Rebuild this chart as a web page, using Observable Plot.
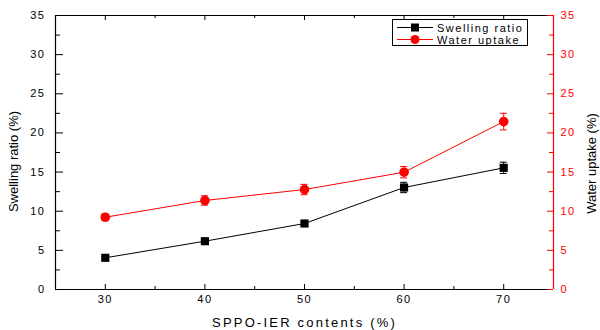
<!DOCTYPE html>
<html><head><meta charset="utf-8">
<script src="https://cdn.jsdelivr.net/npm/d3@7"></script>
<script src="https://cdn.jsdelivr.net/npm/@observablehq/plot@0.6"></script>
<style>
body{margin:0;background:#fff;font-family:Arial,"Liberation Sans",sans-serif}
#wrap{position:relative;width:600px;height:330px}
#legend{position:absolute;left:392px;top:19px;width:136px;height:27px;border:1px solid #000;background:#fff;font-size:11px;letter-spacing:1.5px;box-sizing:border-box}
#legend .row{position:absolute;left:4px;height:13px;display:flex;align-items:center}
#legend svg{margin-right:4px}
</style></head><body><div id="wrap"></div>
<script>
const contents = [30, 40, 50, 60, 70];
const swelling = [4.05, 6.17, 8.43, 13.03, 15.54];
const swellingErr = [0.2, 0.2, 0.2, 0.66, 0.72];
const uptake = [9.23, 11.37, 12.77, 14.98, 21.45];
const uptakeErr = [0.4, 0.6, 0.66, 0.72, 1.06];
const xTicks = [30, 40, 50, 60, 70];
const xMinor = [35, 45, 55, 65];
const yTicks = [0, 5, 10, 15, 20, 25, 30, 35];
const yMinor = [2.5, 7.5, 12.5, 17.5, 22.5, 27.5, 32.5];
const seriesNames = ["Swelling ratio", "Water uptake"];

const sw = contents.map((x, i) => ({x, y: swelling[i], e: swellingErr[i]}));
const wu = contents.map((x, i) => ({x, y: uptake[i], e: uptakeErr[i]}));

const W = 600, H = 330, mL = 55, mR = 47, mT = 15, mB = 41;
const pw = W - mL - mR, ph = H - mT - mB;
const cap = 0.35;

const errMarks = (data, color) => [
  Plot.ruleX(data, {x: "x", y1: d => d.y - d.e, y2: d => d.y + d.e, stroke: color, strokeWidth: 1}),
  Plot.ruleY(data, {y: d => d.y + d.e, x1: d => d.x - cap, x2: d => d.x + cap, stroke: color}),
  Plot.ruleY(data, {y: d => d.y - d.e, x1: d => d.x - cap, x2: d => d.x + cap, stroke: color})
];

const chart = Plot.plot({
  width: W, height: H,
  marginLeft: mL, marginRight: mR, marginTop: mT, marginBottom: mB,
  style: {fontFamily: "Arial, 'Liberation Sans', sans-serif", fontSize: "11px", letterSpacing: "1.5px", background: "#fff"},
  x: {domain: [25, 75]},
  y: {domain: [0, 35]},
  marks: [
    // frame
    Plot.ruleY([0], {stroke: "#000", strokeWidth: 1.2}),
    Plot.ruleY([35], {stroke: "#000", strokeWidth: 1}),
    Plot.ruleX([25], {stroke: "#000", strokeWidth: 1.2}),
    Plot.ruleX([75], {stroke: "red", strokeWidth: 1.2}),
    // inward ticks
    Plot.tickX(xTicks, {x: d => d, insetTop: ph - 5, stroke: "#000"}),
    Plot.tickX(xMinor, {x: d => d, insetTop: ph - 3, stroke: "#000"}),
    Plot.tickX(xTicks, {x: d => d, insetBottom: ph - 5, stroke: "#000"}),
    Plot.tickX(xMinor, {x: d => d, insetBottom: ph - 3, stroke: "#000"}),
    Plot.tickY(yTicks, {y: d => d, insetRight: pw - 8, stroke: "#000"}),
    Plot.tickY(yMinor, {y: d => d, insetRight: pw - 5, stroke: "#000"}),
    Plot.tickY(yTicks, {y: d => d, insetLeft: pw - 6, stroke: "red"}),
    Plot.tickY(yMinor, {y: d => d, insetLeft: pw - 4, stroke: "red"}),
    // axes labels
    Plot.axisX(xTicks, {anchor: "bottom", tickSize: 0, tickPadding: 6, label: null}),
    Plot.axisY(yTicks, {anchor: "left", tickSize: 0, tickPadding: 10, label: null}),
    Plot.axisY(yTicks, {anchor: "right", tickSize: 0, tickPadding: 7, label: null, color: "red", fill: "red"}),
    Plot.text(["SPPO-IER contents (%)"], {frameAnchor: "bottom", dy: 33, text: d => d, fontSize: 13, lineAnchor: "middle", textAnchor: "middle", fill: "#000"}),
    Plot.text(["Swelling ratio (%)"], {frameAnchor: "left", rotate: -90, dx: -42, dy: 9, text: d => d, fontSize: 13, lineAnchor: "middle", textAnchor: "middle", fill: "#000"}),
    Plot.text(["Water uptake (%)"], {frameAnchor: "right", rotate: -90, dx: 38, dy: 11, text: d => d, fontSize: 13, lineAnchor: "middle", textAnchor: "middle", fill: "#000"}),
    // series
    Plot.line(sw, {x: "x", y: "y", stroke: "#000", strokeWidth: 1}),
    Plot.line(wu, {x: "x", y: "y", stroke: "red", strokeWidth: 1}),
    ...errMarks(sw, "#000"),
    ...errMarks(wu, "red"),
    Plot.dot(sw, {x: "x", y: "y", symbol: "square", r: 4.6, fill: "#000", stroke: "none"}),
    Plot.dot(wu, {x: "x", y: "y", symbol: "circle", r: 4.8, fill: "red", stroke: "none"})
  ]
});
chart.querySelectorAll("text").forEach(t => {
  const s = t.textContent;
  if (s === "SPPO-IER contents (%)") t.style.letterSpacing = "2.2px";
  if (s === "Swelling ratio (%)" || s === "Water uptake (%)") t.style.letterSpacing = "0px";
});
const wrap = document.getElementById("wrap");
wrap.appendChild(chart);

const legend = document.createElement("div");
legend.id = "legend";
const items = [
  {name: seriesNames[0], color: "#000", sym: "square"},
  {name: seriesNames[1], color: "red", sym: "circle"}
];
items.forEach((it, i) => {
  const row = document.createElement("div");
  row.className = "row";
  row.style.top = (i === 0 ? 1 : 13) + "px";
  const marker = it.sym === "square"
    ? `<rect x="14" y="2.5" width="8" height="8" fill="${it.color}"/>`
    : `<circle cx="18" cy="6.5" r="4.5" fill="${it.color}"/>`;
  row.innerHTML = `<svg width="36" height="13"><line x1="0" x2="36" y1="6.5" y2="6.5" stroke="${it.color}" stroke-width="1"/>${marker}</svg><span>${it.name}</span>`;
  legend.appendChild(row);
});
wrap.appendChild(legend);
</script>
</body></html>
